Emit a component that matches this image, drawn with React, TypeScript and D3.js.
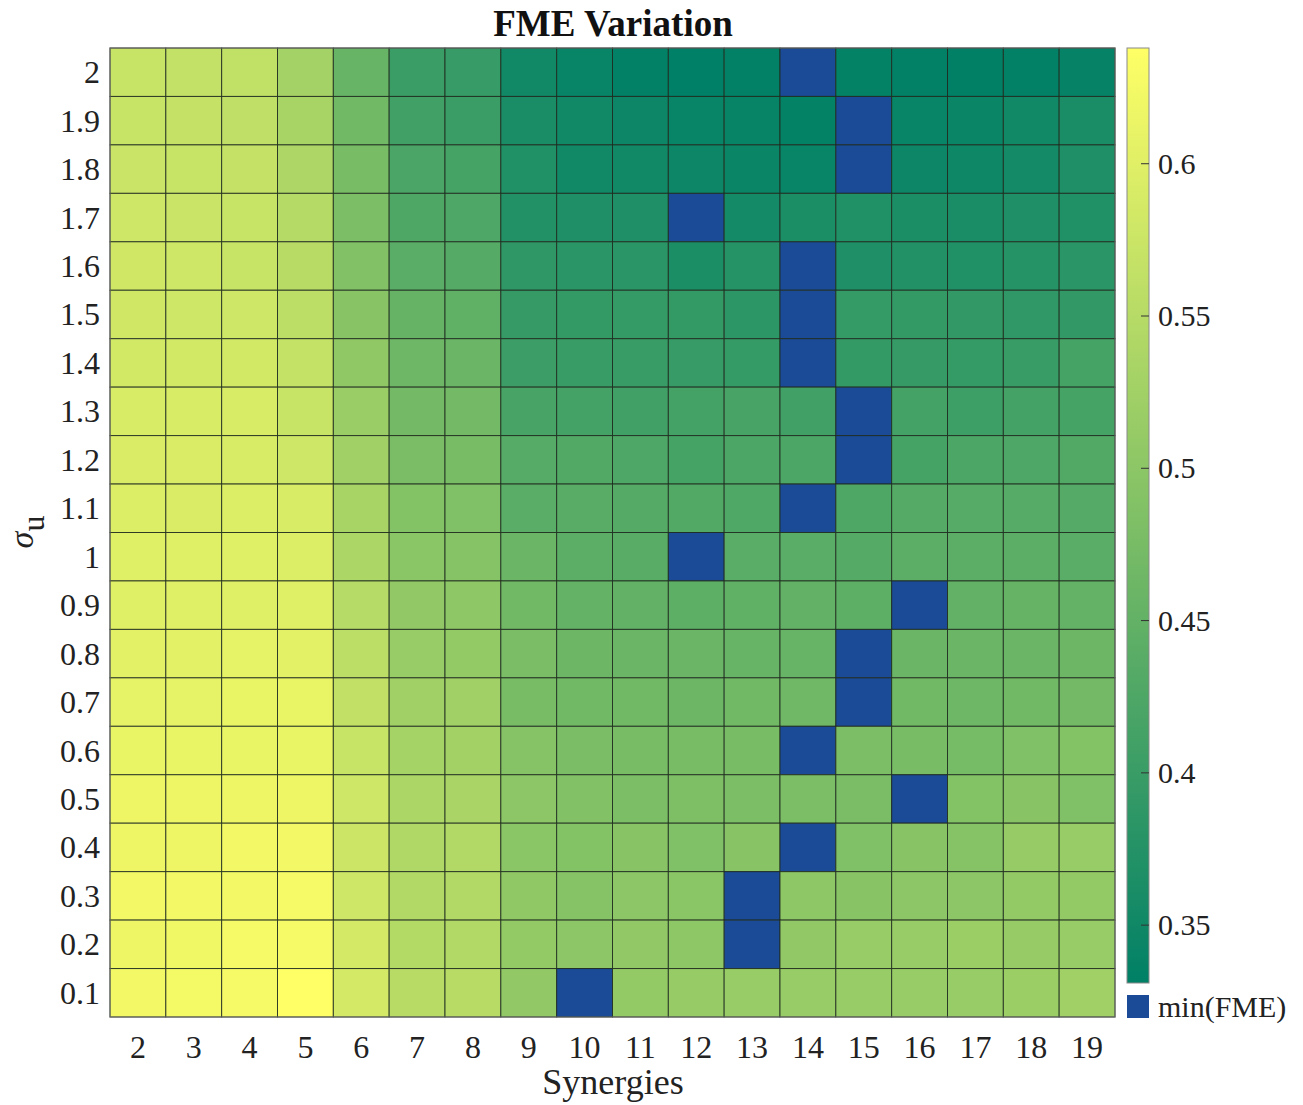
import React from 'react';
import * as d3 from 'd3';

// columns: number of synergies, rows: sigma_u from top (2) to bottom (0.1)
const synergies = [2, 3, 4, 5, 6, 7, 8, 9, 10, 11, 12, 13, 14, 15, 16, 17, 18, 19];
const sigmaU = ['2', '1.9', '1.8', '1.7', '1.6', '1.5', '1.4', '1.3', '1.2', '1.1',
  '1', '0.9', '0.8', '0.7', '0.6', '0.5', '0.4', '0.3', '0.2', '0.1'];
const colorTicks = [0.35, 0.4, 0.45, 0.5, 0.55, 0.6];

// FME per sigma_u row, one value per synergy count
const fme: number[][] = [
  [0.572, 0.566, 0.562, 0.530, 0.456, 0.401, 0.396, 0.351, 0.341, 0.334, 0.331, 0.334, 0.330, 0.335, 0.334, 0.332, 0.334, 0.338],
  [0.572, 0.568, 0.561, 0.533, 0.468, 0.408, 0.402, 0.363, 0.351, 0.346, 0.341, 0.339, 0.336, 0.333, 0.341, 0.343, 0.353, 0.363],
  [0.573, 0.572, 0.568, 0.539, 0.476, 0.420, 0.415, 0.370, 0.353, 0.351, 0.346, 0.343, 0.341, 0.338, 0.346, 0.348, 0.355, 0.367],
  [0.580, 0.573, 0.572, 0.549, 0.480, 0.426, 0.425, 0.373, 0.367, 0.367, 0.352, 0.355, 0.365, 0.369, 0.365, 0.363, 0.367, 0.369],
  [0.581, 0.580, 0.572, 0.552, 0.488, 0.439, 0.433, 0.387, 0.382, 0.382, 0.365, 0.377, 0.362, 0.367, 0.372, 0.369, 0.377, 0.382],
  [0.581, 0.580, 0.580, 0.557, 0.495, 0.454, 0.447, 0.395, 0.393, 0.394, 0.393, 0.385, 0.382, 0.394, 0.393, 0.391, 0.389, 0.391],
  [0.584, 0.584, 0.584, 0.567, 0.504, 0.463, 0.459, 0.403, 0.399, 0.399, 0.396, 0.394, 0.390, 0.393, 0.395, 0.394, 0.399, 0.415],
  [0.591, 0.591, 0.591, 0.572, 0.516, 0.471, 0.471, 0.418, 0.413, 0.408, 0.413, 0.417, 0.409, 0.405, 0.413, 0.406, 0.413, 0.415],
  [0.593, 0.593, 0.591, 0.580, 0.524, 0.478, 0.476, 0.435, 0.430, 0.425, 0.415, 0.423, 0.423, 0.412, 0.415, 0.423, 0.425, 0.430],
  [0.596, 0.593, 0.596, 0.591, 0.533, 0.490, 0.485, 0.439, 0.437, 0.433, 0.430, 0.427, 0.424, 0.426, 0.433, 0.435, 0.435, 0.432],
  [0.601, 0.601, 0.601, 0.596, 0.538, 0.497, 0.492, 0.459, 0.442, 0.437, 0.431, 0.439, 0.439, 0.433, 0.442, 0.442, 0.442, 0.439],
  [0.601, 0.601, 0.601, 0.601, 0.550, 0.507, 0.502, 0.468, 0.451, 0.449, 0.444, 0.447, 0.449, 0.444, 0.441, 0.449, 0.454, 0.451],
  [0.603, 0.603, 0.608, 0.603, 0.557, 0.514, 0.509, 0.478, 0.461, 0.460, 0.459, 0.456, 0.456, 0.453, 0.459, 0.459, 0.460, 0.461],
  [0.608, 0.608, 0.613, 0.613, 0.564, 0.524, 0.524, 0.476, 0.468, 0.468, 0.461, 0.468, 0.466, 0.459, 0.468, 0.463, 0.468, 0.471],
  [0.613, 0.613, 0.613, 0.613, 0.572, 0.531, 0.528, 0.492, 0.478, 0.476, 0.476, 0.476, 0.470, 0.480, 0.476, 0.473, 0.485, 0.490],
  [0.617, 0.617, 0.617, 0.617, 0.580, 0.538, 0.536, 0.500, 0.488, 0.480, 0.483, 0.480, 0.480, 0.478, 0.475, 0.490, 0.495, 0.485],
  [0.617, 0.617, 0.622, 0.622, 0.576, 0.543, 0.545, 0.497, 0.490, 0.495, 0.485, 0.495, 0.481, 0.485, 0.495, 0.492, 0.512, 0.514],
  [0.622, 0.622, 0.622, 0.627, 0.579, 0.545, 0.545, 0.504, 0.492, 0.500, 0.497, 0.489, 0.502, 0.495, 0.500, 0.500, 0.509, 0.509],
  [0.617, 0.620, 0.627, 0.627, 0.586, 0.548, 0.545, 0.509, 0.500, 0.507, 0.502, 0.496, 0.507, 0.514, 0.514, 0.519, 0.512, 0.514],
  [0.622, 0.625, 0.627, 0.638, 0.586, 0.552, 0.552, 0.507, 0.503, 0.509, 0.512, 0.514, 0.514, 0.514, 0.514, 0.514, 0.519, 0.524],
];

const FONT = '"Liberation Serif", "Times New Roman", serif';
const MIN_COLOR = '#1b4b96';

const App: React.FC = () => {
  const left = 110, right = 1115, top = 48, bottom = 1017;
  const cbX = 1127, cbW = 22, cbTop = 48, cbBottom = 983;

  const x = d3.scaleBand<number>().domain(synergies).range([left, right]);
  const y = d3.scaleBand<string>().domain(sigmaU).range([top, bottom]);

  const minIdx = fme.map((row) => d3.minIndex(row));
  const others = fme.flatMap((row, r) => row.filter((_, i) => i !== minIdx[r]));
  const [lo, hi] = d3.extent(others) as [number, number];

  // MATLAB "summer" colormap
  const summer = d3.interpolateRgb('#008066', '#ffff66');
  const color = d3.scaleSequential(summer).domain([lo, hi]);
  const cb = d3.scaleLinear().domain([lo, hi]).range([cbBottom, cbTop]);

  const stops = d3.range(0, 1.0001, 0.05);

  return (
    <svg width={1303} height={1105} style={{ display: 'block', background: '#fff' }}>
      <style>{'body{margin:0}'}</style>
      <defs>
        <linearGradient id="summer" x1="0" y1="1" x2="0" y2="0">
          {stops.map((s) => (
            <stop key={s} offset={s} stopColor={summer(s)} />
          ))}
        </linearGradient>
      </defs>

      <text x={613} y={36} textAnchor="middle" fontFamily={FONT} fontWeight="bold" fontSize={37} fill="#111">
        FME Variation
      </text>

      {/* cells */}
      <g>
        {fme.map((row, r) =>
          row.map((v, c) => (
            <rect
              key={`${r}-${c}`}
              x={x(synergies[c])}
              y={y(sigmaU[r])}
              width={x.bandwidth()}
              height={y.bandwidth()}
              fill={c === minIdx[r] ? MIN_COLOR : color(v)}
              stroke="#1e2a1e"
              strokeWidth={1}
              strokeOpacity={0.85}
            />
          ))
        )}
      </g>
      <rect x={left} y={top} width={right - left} height={bottom - top} fill="none" stroke="#6a6a6a" strokeWidth={1} />

      {/* y ticks */}
      {sigmaU.map((s) => (
        <text key={s} x={100} y={(y(s) as number) + y.bandwidth() / 2 + 11} textAnchor="end"
          fontFamily={FONT} fontSize={32} fill="#222">{s}</text>
      ))}
      {/* x ticks */}
      {synergies.map((n) => (
        <text key={n} x={(x(n) as number) + x.bandwidth() / 2} y={1058} textAnchor="middle"
          fontFamily={FONT} fontSize={32} fill="#222">{n}</text>
      ))}

      <text x={613} y={1094} textAnchor="middle" fontFamily={FONT} fontSize={36} fill="#222">Synergies</text>

      <text transform="translate(33,532) rotate(-90)" textAnchor="middle" fontFamily={FONT} fontSize={34} fill="#222">
        <tspan fontStyle="italic">σ</tspan>
        <tspan dy={11} fontSize={32}>u</tspan>
      </text>

      {/* colorbar */}
      <rect x={cbX} y={cbTop} width={cbW} height={cbBottom - cbTop} fill="url(#summer)" stroke="#8a8a8a" strokeWidth={1} />
      {colorTicks.map((t) => (
        <g key={t}>
          <line x1={cbX + cbW - 8} x2={cbX + cbW} y1={cb(t)} y2={cb(t)} stroke="#333" strokeWidth={1} />
          <text x={cbX + cbW + 9} y={cb(t) + 10} fontFamily={FONT} fontSize={30} fill="#222">{t}</text>
        </g>
      ))}

      {/* min marker legend */}
      <rect x={cbX} y={995} width={cbW} height={23} fill={MIN_COLOR} />
      <text x={cbX + cbW + 9} y={1017} fontFamily={FONT} fontSize={30} fill="#222">min(FME)</text>
    </svg>
  );
};

export default App;
